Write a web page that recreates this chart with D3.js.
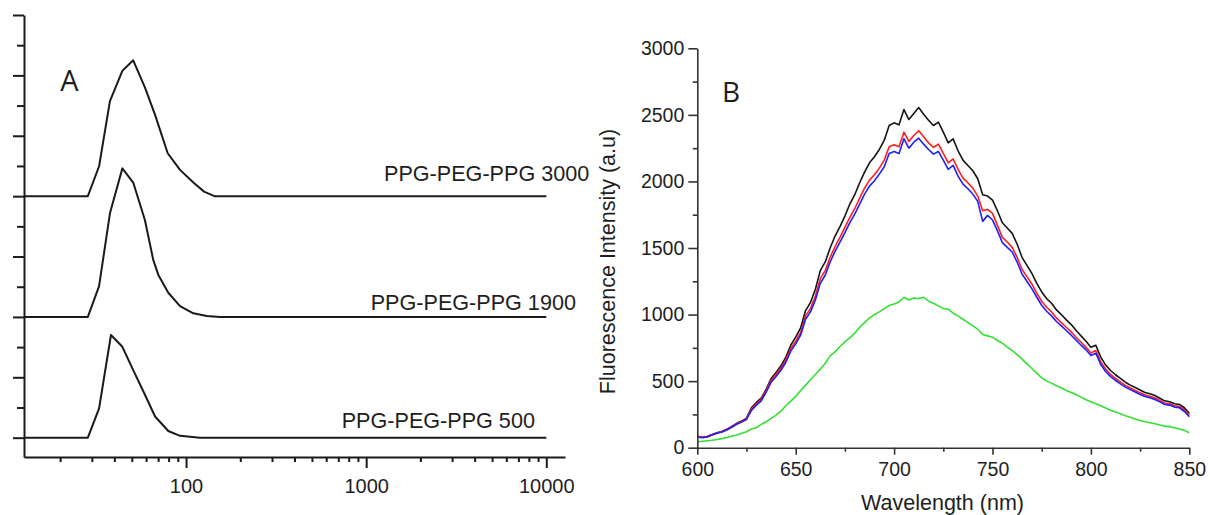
<!DOCTYPE html>
<html><head><meta charset="utf-8">
<script src="https://cdn.jsdelivr.net/npm/d3@7"></script>
<style>
html,body{margin:0;padding:0;background:#fff;}
svg{display:block;}
text{font-family:"Liberation Sans", Arial, sans-serif;fill:#1e1e1e;}
</style></head><body>
<svg id="c" width="1210" height="515"></svg>
<script>
// ---------- Panel A data (log-scale size distribution, stacked with offsets) ----------
const sizeMajorTicks = [100, 1000, 10000];
const sizeMinorTicks = [20,30,40,50,60,70,80,90,200,300,400,500,600,700,800,900,2000,3000,4000,5000,6000,7000,8000,9000];
const seriesANames = ["PPG-PEG-PPG 3000", "PPG-PEG-PPG 1900", "PPG-PEG-PPG 500"];
const seriesAOffsets = [8, 4, 0];
const sizes3000 = [12.6, 28.5, 32.9, 37.8, 44.3, 50.9, 59.1, 67.3, 79.1, 92.6, 109.8, 125.9, 143.6, 10000];
const dist3000  = [0, 0, 0.99, 3.15, 4.15, 4.5, 3.6, 2.69, 1.42, 0.87, 0.45, 0.15, 0, 0];
const sizes1900 = [12.6, 28.5, 32.9, 37.8, 44.3, 50.9, 59.1, 65.8, 70.2, 79.7, 92.6, 109.8, 130.4, 154.4, 10000];
const dist1900  = [0, 0, 1.02, 3.43, 4.92, 4.45, 3.21, 1.88, 1.39, 0.8, 0.36, 0.12, 0.03, 0, 0];
const sizes500  = [12.6, 28.5, 32.9, 38.3, 44.3, 50.9, 58.6, 67.3, 79.7, 92.6, 119.6, 10000];
const dist500   = [0, 0, 0.97, 3.40, 3.01, 2.24, 1.47, 0.70, 0.22, 0.06, 0, 0];
const yATicksMajor = [0, 2, 4, 6, 8, 10, 12, 14];
const yATicksMinor = [1, 3, 5, 7, 9, 11, 13];

// ---------- Panel B data (fluorescence spectra) ----------
const wavelength = d3.range(600, 850.01, 2.5);
const blackSeries = [85,78,84,100,112,122,138,160,183,200,222,300,340,372,440,520,565,615,680,770,830,900,1030,1090,1190,1330,1395,1500,1590,1660,1740,1830,1900,1990,2070,2140,2185,2240,2310,2420,2440,2425,2540,2465,2510,2555,2505,2460,2420,2445,2370,2290,2320,2230,2160,2120,2080,2020,1900,1890,1860,1780,1690,1650,1610,1530,1430,1370,1310,1235,1170,1120,1085,1035,1000,960,925,880,840,800,755,770,680,620,580,548,520,492,470,452,433,415,405,392,372,352,345,330,325,300,258];
const redSeries = [85,78,82,98,110,120,136,157,180,196,218,290,330,362,430,505,550,598,660,745,800,865,990,1045,1140,1270,1330,1430,1510,1580,1655,1730,1795,1875,1950,2010,2050,2100,2160,2260,2275,2260,2370,2300,2345,2380,2335,2290,2255,2280,2210,2140,2170,2090,2025,1990,1950,1890,1780,1790,1760,1670,1580,1545,1505,1430,1340,1285,1230,1160,1100,1055,1020,975,940,905,870,830,792,755,712,730,645,590,550,520,494,468,448,430,412,396,386,373,355,336,330,315,310,285,245];
const blueSeries = [80,75,80,95,108,118,133,154,176,192,212,280,320,352,418,492,535,582,642,725,780,845,965,1020,1110,1235,1295,1395,1475,1545,1615,1690,1755,1830,1905,1965,2005,2055,2110,2210,2225,2210,2320,2250,2295,2325,2280,2240,2205,2225,2160,2090,2120,2040,1980,1945,1905,1850,1700,1745,1710,1630,1540,1505,1470,1395,1305,1250,1195,1130,1070,1025,990,948,915,880,845,808,770,735,692,710,625,572,534,505,480,455,436,418,400,385,375,362,344,325,320,305,300,272,233];
const greenSeries = [45,48,52,56,62,68,76,86,95,108,120,140,150,175,195,220,245,275,315,350,385,430,470,510,550,590,635,690,720,760,795,825,860,905,940,975,1000,1020,1045,1068,1080,1095,1130,1110,1125,1120,1130,1100,1085,1065,1045,1040,1010,990,965,940,915,890,850,840,830,805,785,755,730,700,665,630,595,560,525,500,485,465,450,430,415,398,380,360,345,330,315,298,282,268,255,240,228,215,205,195,188,180,170,162,158,150,140,130,112];
const seriesBColors = ["#141414", "#ff1e1e", "#1e1eff", "#33e033"];
const yBMajor = [0, 500, 1000, 1500, 2000, 2500, 3000];
const yBMinor = [250, 750, 1250, 1750, 2250, 2750];
const xBMajor = [600, 650, 700, 750, 800, 850];
const xBMinor = [625, 675, 725, 775, 825];

const svg = d3.select("#c");

// ================= Panel A =================
const xA = d3.scaleLog().domain([12.6, 12700]).range([24, 565]);
const yA = d3.scaleLinear().domain([-0.64, 14]).range([457, 15]);
const gA = svg.append("g");
const axisColA = "#1a1a1a";

const yAxMaj = gA.append("g").attr("transform", "translate(24,0)")
  .call(d3.axisLeft(yA).tickValues(yATicksMajor).tickSize(11).tickSizeOuter(0).tickFormat(""));
const yAxMin = gA.append("g").attr("transform", "translate(24,0)")
  .call(d3.axisLeft(yA).tickValues(yATicksMinor).tickSize(7).tickSizeOuter(0).tickFormat(""));
yAxMin.select(".domain").remove();

const xAxMaj = gA.append("g").attr("transform", "translate(0,457)")
  .call(d3.axisBottom(xA).tickValues(sizeMajorTicks).tickSize(11).tickPadding(11).tickSizeOuter(0).tickFormat(d3.format("d")));
const xAxMin = gA.append("g").attr("transform", "translate(0,457)")
  .call(d3.axisBottom(xA).tickValues(sizeMinorTicks).tickSize(5).tickSizeOuter(0).tickFormat(""));
xAxMin.select(".domain").remove();

gA.selectAll(".domain, .tick line").attr("stroke", axisColA).attr("stroke-width", 2);
xAxMaj.selectAll("text").attr("font-size", "20px").attr("fill", "#1e1e1e")
  .style("font-family", '"Liberation Sans", Arial, sans-serif');

const lineA = (off) => d3.line().x(d => xA(d[0])).y(d => yA(d[1] + off));
const seriesA = [
  d3.zip(sizes3000, dist3000),
  d3.zip(sizes1900, dist1900),
  d3.zip(sizes500, dist500)
];
seriesA.forEach((s, i) => {
  gA.append("path").datum(s).attr("d", lineA(seriesAOffsets[i])(s))
    .attr("fill", "none").attr("stroke", "#1a1a1a").attr("stroke-width", 2)
    .attr("stroke-linejoin", "round");
});

const labelPos = [[384, 181], [370.7, 310], [341.7, 427.7]];
seriesANames.forEach((n, i) => {
  gA.append("text").attr("x", labelPos[i][0]).attr("y", labelPos[i][1])
    .attr("font-size", "21.6px").text(n);
});
gA.append("text").attr("x", 69.5).attr("y", 91).attr("text-anchor", "middle")
  .attr("font-size", "29px").style("font-family", '"Open Sans", "Liberation Sans", sans-serif').text("A");

// ================= Panel B =================
const xB = d3.scaleLinear().domain([600, 850]).range([697.3, 1189.3]);
const yB = d3.scaleLinear().domain([0, 3000]).range([447.7, 48.3]);
const gB = svg.append("g");
const axisColB = "#333";

const lineB = d3.line().x((d, i) => xB(wavelength[i])).y(d => yB(d));
[blackSeries, redSeries, blueSeries, greenSeries].forEach((s, i) => {
  gB.append("path").datum(s).attr("d", lineB(s)).attr("fill", "none")
    .attr("stroke", seriesBColors[i]).attr("stroke-width", 1.6).attr("stroke-linejoin", "round");
});

const yBMaj = gB.append("g").attr("transform", "translate(697.3,0)")
  .call(d3.axisLeft(yB).tickValues(yBMajor).tickSize(9).tickPadding(4).tickSizeOuter(0).tickFormat(d3.format("d")));
const yBMin = gB.append("g").attr("transform", "translate(697.3,0)")
  .call(d3.axisLeft(yB).tickValues(yBMinor).tickSize(4.5).tickSizeOuter(0).tickFormat(""));
yBMin.select(".domain").remove();
const xBMaj = gB.append("g").attr("transform", "translate(0,447.7)")
  .call(d3.axisBottom(xB).tickValues(xBMajor).tickSize(7).tickPadding(7).tickSizeOuter(0).tickFormat(d3.format("d")));
const xBMin = gB.append("g").attr("transform", "translate(0,447.7)")
  .call(d3.axisBottom(xB).tickValues(xBMinor).tickSize(4).tickSizeOuter(0).tickFormat(""));
xBMin.select(".domain").remove();
gB.selectAll(".domain, .tick line").attr("stroke", axisColB).attr("stroke-width", 1.6);
gB.selectAll(".tick text").attr("font-size", "19.5px").attr("fill", "#1e1e1e")
  .style("font-family", '"Liberation Sans", Arial, sans-serif');

gB.append("text").attr("x", 942.5).attr("y", 510).attr("text-anchor", "middle")
  .attr("font-size", "21.5px").text("Wavelength (nm)");
gB.append("text").attr("transform", "translate(615,261.5) rotate(-90)").attr("text-anchor", "middle")
  .attr("font-size", "21.5px").text("Fluorescence Intensity (a.u)");
gB.append("text").attr("x", 731).attr("y", 101.7).attr("text-anchor", "middle")
  .attr("font-size", "28px").style("font-family", '"Open Sans", "Liberation Sans", sans-serif').text("B");
</script></body></html>
